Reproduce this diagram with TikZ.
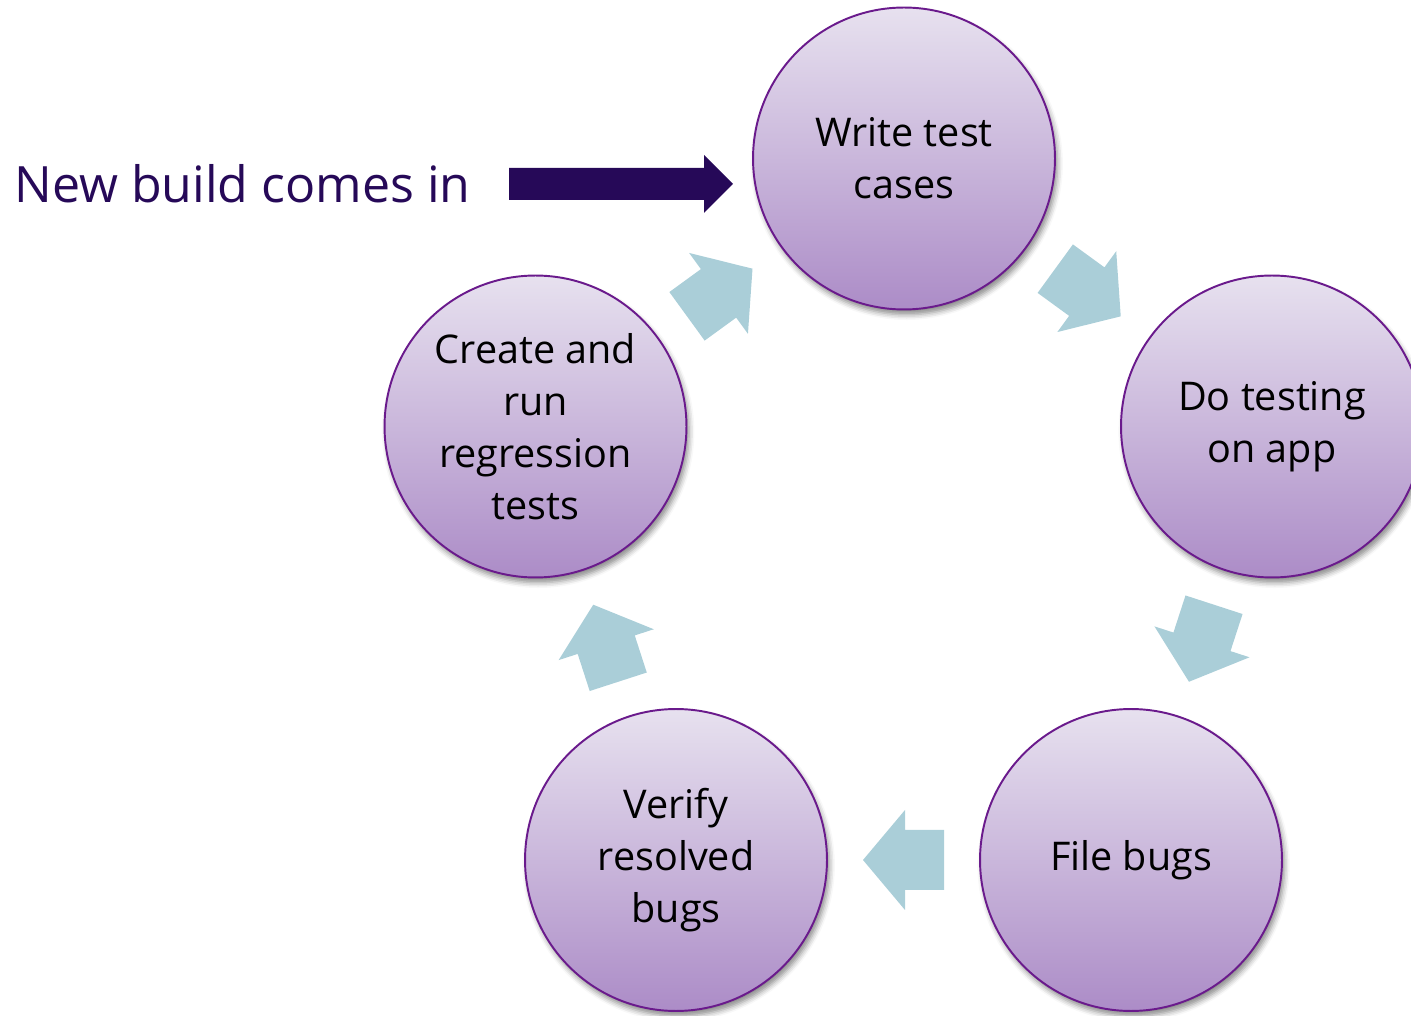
\documentclass[tikz,border=0pt]{standalone}
\usepackage{fontspec}
\setmainfont{Open Sans}
\usetikzlibrary{shadows.blur,calc}
\definecolor{bord}{RGB}{106,26,140}
\definecolor{ctop}{RGB}{231,225,239}
\definecolor{cbot}{RGB}{172,140,199}
\definecolor{blk}{RGB}{170,206,216}
\definecolor{darkp}{RGB}{38,9,88}
\tikzset{
  stage/.style={circle, draw=bord, line width=1.1pt, top color=ctop, bottom color=cbot,
    minimum size=6.04cm, inner sep=0pt, align=center,
    font=\fontsize{22.5}{29.5}\selectfont, text=black,
    blur shadow={shadow xshift=1.5pt, shadow yshift=-3pt, shadow blur radius=3pt, shadow opacity=45}},
  blockarrow/.pic={\fill[blk] (-40.5,-30)--(-1.5,-30)--(-1.5,-50)--(40.5,0)--(-1.5,50)--(-1.5,30)--(-40.5,30)--cycle;},
  lbl/.style={anchor=base west, text=darkp, font=\fontsize{28.5}{34}\selectfont, inner sep=0pt}
}
\begin{document}
\begin{tikzpicture}[x=0.02cm,y=0.02cm]
\useasboundingbox (0,0) rectangle (1411,-1016);
\node[stage] (a) at (904,-158.5) {Write test\\cases};
\node[stage] (b) at (1272,-426.5) {Do testing\\on app};
\node[stage] (c) at (1131,-860) {File bugs};
\node[stage] (d) at (676,-860) {Verify\\resolved\\bugs};
\node[stage] (e) at (535.5,-426.5) {Create and\\run\\regression\\tests};
\foreach \s/\t in {a/b,b/c,c/d,d/e,e/a}{
  \path let \p1=($(\t)-(\s)$), \n1={atan2(\y1,\x1)} in ($(\s)!0.5!(\t)$) pic[rotate=\n1]{blockarrow};
}
\node[lbl] (new) at (14,-203) {New build comes in};
\coordinate (tail) at (509,-184);
\coordinate (tip) at (733,-184);
\fill[darkp] ($(tail)+(0,16)$) -- ($(tip)+(-29,16)$) -- ($(tip)+(-29,29)$) -- (tip)
  -- ($(tip)+(-29,-29)$) -- ($(tip)+(-29,-16)$) -- ($(tail)+(0,-16)$) -- cycle;
\end{tikzpicture}
\end{document}
